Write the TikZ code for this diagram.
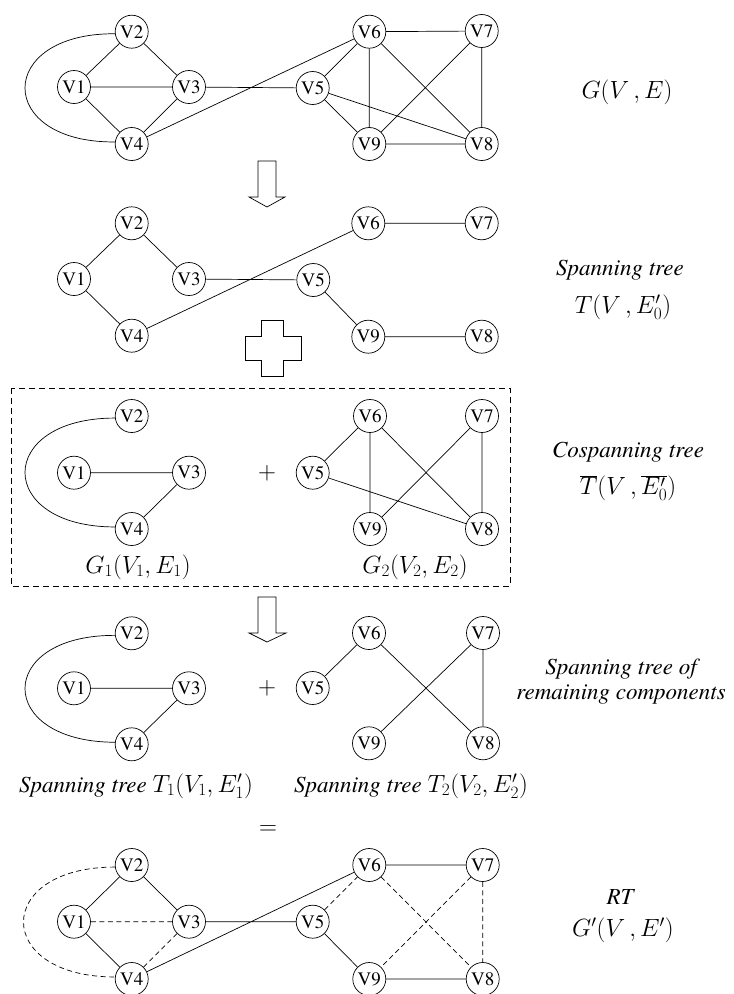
\documentclass[tikz,border=0pt]{standalone}
\usepackage{fontspec}
\setmainfont{texgyretermes}[Extension=.otf,UprightFont=*-regular,ItalicFont=*-italic,BoldFont=*-bold,BoldItalicFont=*-bolditalic]
\begin{document}
\begin{tikzpicture}[x=1pt,y=-1pt,
  vtx/.style={circle,draw,line width=0.7pt,minimum size=33pt,inner sep=0pt,font=\fontsize{19}{19}\selectfont},
  edge/.style={line width=0.7pt},
  dedge/.style={line width=0.7pt,dash pattern=on 5pt off 3.5pt},
  lab/.style={font=\fontsize{23}{25}\selectfont\itshape,align=center,inner sep=0pt},
  mlab/.style={font=\fontsize{23}{26}\selectfont,inner sep=0pt},
  tlab/.style={font=\fontsize{23}{25}\selectfont,inner sep=0pt},
  hollow/.style={draw,line width=0.7pt}]
\useasboundingbox (0,0) rectangle (734,994);

% ---------- graph G(V,E) ----------
\node[vtx] (aV1) at (74,87) {V1};
\node[vtx] (aV2) at (131.7,31.7) {V2};
\node[vtx] (aV3) at (189,87) {V3};
\node[vtx] (aV4) at (131.7,144) {V4};
\node[vtx] (aV5) at (312.7,88) {V5};
\node[vtx] (aV6) at (369.3,31.7) {V6};
\node[vtx] (aV7) at (481.7,31) {V7};
\node[vtx] (aV9) at (369.3,144) {V9};
\node[vtx] (aV8) at (481.7,144) {V8};
\draw[edge] (aV1)--(aV2) (aV2)--(aV3) (aV1)--(aV3) (aV1)--(aV4) (aV3)--(aV4)
  (aV3)--(aV5) (aV4)--(aV6) (aV5)--(aV6) (aV5)--(aV9) (aV5)--(aV8)
  (aV6)--(aV7) (aV6)--(aV9) (aV6)--(aV8) (aV7)--(aV9) (aV7)--(aV8) (aV9)--(aV8);
\draw[edge] (aV2.187) .. controls (-5,33) and (-5,143) .. (aV4.173);
\node[mlab] (gl) at (627,92) {$G(V\,,E)$};

% arrow 1
\draw[hollow] (258,161)--(276,161)--(276,197)--(285,197)--(267,207)--(249,197)--(258,197)--cycle;

% ---------- spanning tree T ----------
\node[vtx] (bV1) at (74,279) {V1};
\node[vtx] (bV2) at (131.7,223.3) {V2};
\node[vtx] (bV3) at (189,279) {V3};
\node[vtx] (bV4) at (131.7,335.7) {V4};
\node[vtx] (bV5) at (313.3,280) {V5};
\node[vtx] (bV6) at (368.3,223.3) {V6};
\node[vtx] (bV7) at (481.7,223.3) {V7};
\node[vtx] (bV9) at (368.3,336.7) {V9};
\node[vtx] (bV8) at (481.7,336.7) {V8};
\draw[edge] (bV1)--(bV2) (bV2)--(bV3) (bV1)--(bV4) (bV3)--(bV5) (bV4)--(bV6)
  (bV6)--(bV7) (bV5)--(bV9) (bV9)--(bV8);
\node[lab] (tl1) at (620,270) {Spanning tree};
\node[mlab] (tl2) at (623,307) {$T(V\,,E_0')$};

% hollow plus
\draw[hollow] (261.7,320)--(283.3,320)--(283.3,336.7)--(301.7,336.7)--(301.7,360.7)--(283.3,360.7)--(283.3,376.7)--(261.7,376.7)--(261.7,360.7)--(245,360.7)--(245,336.7)--(261.7,336.7)--cycle;

% ---------- cospanning tree ----------
\draw[line width=0.7pt,dash pattern=on 6pt off 4pt] (11,388) rectangle (510,586);
\node[vtx] (cV1) at (74,472.7) {V1};
\node[vtx] (cV2) at (131.7,416) {V2};
\node[vtx] (cV3) at (189,472.7) {V3};
\node[vtx] (cV4) at (131.7,529) {V4};
\node[vtx] (cV5) at (312.7,472.7) {V5};
\node[vtx] (cV6) at (370,416) {V6};
\node[vtx] (cV7) at (482,416) {V7};
\node[vtx] (cV9) at (370,529) {V9};
\node[vtx] (cV8) at (482,529) {V8};
\draw[edge] (cV1)--(cV3) (cV3)--(cV4)
  (cV5)--(cV6) (cV6)--(cV9) (cV6)--(cV8) (cV5)--(cV8) (cV7)--(cV9) (cV7)--(cV8);
\draw[edge] (cV2.187) .. controls (-5,418) and (-5,527) .. (cV4.173);
\node[mlab] (plus1) at (267,473) {$+$};
\node[mlab] (g1l) at (138,567) {$G_1(V_1,E_1)$};
\node[mlab] (g2l) at (415,567) {$G_2(V_2,E_2)$};
\node[lab] (cl1) at (628,452) {Cospanning tree};
\node[mlab] (cl2) at (628,488) {$\overline{T}(V\,,\overline{E_0'})$};

% arrow 2
\draw[hollow] (258,597)--(276,597)--(276,633)--(286,633)--(267,642)--(249,633)--(258,633)--cycle;

% ---------- spanning trees of remaining components ----------
\node[vtx] (dV1) at (74,688.3) {V1};
\node[vtx] (dV2) at (131.7,633.3) {V2};
\node[vtx] (dV3) at (189,688.3) {V3};
\node[vtx] (dV4) at (131.7,744.3) {V4};
\node[vtx] (dV5) at (312.7,688) {V5};
\node[vtx] (dV6) at (369,633) {V6};
\node[vtx] (dV7) at (483,633) {V7};
\node[vtx] (dV9) at (369,743.3) {V9};
\node[vtx] (dV8) at (483,743.3) {V8};
\draw[edge] (dV1)--(dV3) (dV3)--(dV4)
  (dV5)--(dV6) (dV6)--(dV8) (dV7)--(dV9) (dV7)--(dV8);
\draw[edge] (dV2.187) .. controls (-5,635) and (-5,742) .. (dV4.173);
\node[mlab] (plus2) at (267,688) {$+$};
\node[lab] (sl) at (621,682) {Spanning tree of\\remaining components};
\node[tlab] (t1l) at (136,786) {\textit{Spanning tree} $T_1(V_1,E_1')$};
\node[tlab] (t2l) at (411,786) {\textit{Spanning tree} $T_2(V_2,E_2')$};
\node[mlab] (eq) at (268,830) {$=$};

% ---------- RT ----------
\node[vtx] (eV1) at (74,921.7) {V1};
\node[vtx] (eV2) at (131.7,865) {V2};
\node[vtx] (eV3) at (189,921.7) {V3};
\node[vtx] (eV4) at (131.7,979) {V4};
\node[vtx] (eV5) at (312.7,921.7) {V5};
\node[vtx] (eV6) at (369.3,865) {V6};
\node[vtx] (eV7) at (482.7,865) {V7};
\node[vtx] (eV9) at (369.3,979) {V9};
\node[vtx] (eV8) at (482.7,979) {V8};
\draw[edge] (eV1)--(eV2) (eV2)--(eV3) (eV1)--(eV4) (eV3)--(eV5) (eV4)--(eV6)
  (eV6)--(eV7) (eV5)--(eV9) (eV9)--(eV8);
\draw[dedge] (eV1)--(eV3) (eV3)--(eV4) (eV5)--(eV6) (eV6)--(eV8) (eV7)--(eV9) (eV7)--(eV8);
\draw[dedge] (eV2.187) .. controls (-7,867) and (-7,977) .. (eV4.173);
\node[lab] (rt) at (620,897) {RT};
\node[mlab] (gp) at (623,930) {$G'(V\,,E')$};
\end{tikzpicture}
\end{document}
